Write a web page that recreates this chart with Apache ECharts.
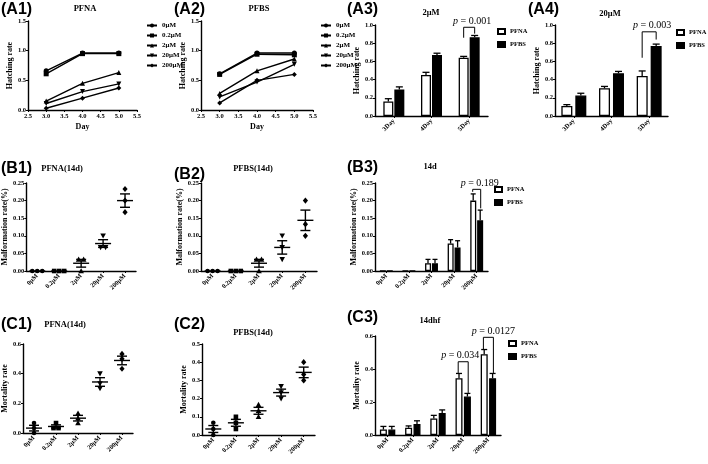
<!DOCTYPE html>
<html><head><meta charset="utf-8">
<script src="https://cdn.jsdelivr.net/npm/echarts@6/dist/echarts.min.js"></script>
<style>html,body{margin:0;padding:0;background:#fff}#c{width:708px;height:464px}</style>
</head><body><div id="c"></div>
<script>
// ---------------- DATA ----------------
const concLabels = ['0μM', '0.2μM', '2μM', '20μM', '200μM'];
const dayLabels = ['3Day', '4Day', '5Day'];
const days = [3.0, 4.0, 5.0];

// A1 PFNA hatching rate (day 3, 4, 5)
const a1_0 = [0.66, 0.96, 0.96];
const a1_02 = [0.61, 0.95, 0.95];
const a1_2 = [0.15, 0.45, 0.63];
const a1_20 = [0.11, 0.31, 0.44];
const a1_200 = [0.03, 0.20, 0.37];
// A2 PFBS hatching rate
const a2_0 = [0.61, 0.96, 0.96];
const a2_02 = [0.60, 0.94, 0.93];
const a2_2 = [0.28, 0.66, 0.86];
const a2_20 = [0.22, 0.47, 0.77];
const a2_200 = [0.12, 0.50, 0.60];

// A3 (2μM) hatching rate
const a3_pfna = [0.16, 0.45, 0.64];
const a3_pfna_err = [0.03, 0.03, 0.015];
const a3_pfbs = [0.29, 0.67, 0.865];
const a3_pfbs_err = [0.03, 0.02, 0.02];
// A4 (20μM) hatching rate
const a4_pfna = [0.11, 0.305, 0.44];
const a4_pfna_err = [0.015, 0.02, 0.055];
const a4_pfbs = [0.225, 0.47, 0.77];
const a4_pfbs_err = [0.025, 0.02, 0.02];

// B1 / B2 malformation replicates, mean, SEM
const b1_reps = [[0, 0, 0], [0, 0, 0], [0.033, 0.033, 0], [0.1, 0.067, 0.067], [0.233, 0.2, 0.167]];
const b1_mean = [0, 0, 0.022, 0.078, 0.2];
const b1_sem = [0, 0, 0.011, 0.011, 0.019];
const b2_reps = [[0, 0, 0], [0, 0, 0], [0.033, 0.033, 0], [0.1, 0.067, 0.033], [0.2, 0.133, 0.1]];
const b2_mean = [0, 0, 0.022, 0.067, 0.144];
const b2_sem = [0, 0, 0.011, 0.019, 0.029];

// C1 / C2 mortality replicates, mean, SEM
const c1_reps = [[0.067, 0.033, 0], [0.067, 0.033, 0.033], [0.133, 0.1, 0.067], [0.4, 0.333, 0.3], [0.533, 0.5, 0.433]];
const c1_mean = [0.033, 0.044, 0.1, 0.344, 0.489];
const c1_sem = [0.019, 0.011, 0.019, 0.029, 0.029];
const c2_reps = [[0.067, 0.033, 0], [0.1, 0.067, 0.033], [0.167, 0.133, 0.1], [0.267, 0.233, 0.2], [0.4, 0.333, 0.3]];
const c2_mean = [0.033, 0.067, 0.133, 0.233, 0.344];
const c2_sem = [0.019, 0.019, 0.019, 0.019, 0.029];

// p-value brackets: category, bracket top, left leg end, right leg end, text
const a3_p = [{cat: 2, top: 0.975, l: 0.86, r: 0.905, text: '0.001', dx: 3}];
const a4_p = [{cat: 2, top: 0.925, l: 0.64, r: 0.84, text: '0.003', dx: 3}];
const b3_p = [{cat: 4, top: 0.232, l: 0.225, r: 0.178, text: '0.189', dx: 3}];
const c3_p = [{cat: 3, top: 0.444, l: 0.376, r: 0.255, text: '0.034', dx: -3},
              {cat: 4, top: 0.592, l: 0.52, r: 0.376, text: '0.0127', dx: 5}];

// ---------------- CHART ----------------
const chart = echarts.init(document.getElementById('c'), null, {renderer: 'canvas'});
const SERIF = 'Liberation Serif';
const BLACK = '#000';
const lblBase = {fontFamily: SERIF, fontWeight: 'bold', fontSize: 6.5, color: BLACK};

const grids = [
  {left: 28, top: 21, width: 109, height: 89},   // A1
  {left: 201, top: 21, width: 112, height: 89},  // A2
  {left: 375, top: 25, width: 113, height: 91},  // A3
  {left: 555, top: 25, width: 113, height: 91},  // A4
  {left: 24, top: 183, width: 112, height: 88},  // B1
  {left: 201, top: 183, width: 116, height: 88}, // B2
  {left: 375, top: 183, width: 113, height: 88}, // B3
  {left: 21, top: 344, width: 112, height: 89},  // C1
  {left: 202, top: 344, width: 113, height: 91}, // C2
  {left: 375, top: 336, width: 126, height: 99}  // C3
];

function yAx(gi, max, interval, dec, name, gap) {
  return {type: 'value', gridIndex: gi, min: 0, max: max, interval: interval,
    name: name, nameLocation: 'middle', nameGap: gap,
    nameTextStyle: {fontFamily: SERIF, fontWeight: 'bold', fontSize: 8, color: BLACK},
    axisLine: {show: true, lineStyle: {color: BLACK, width: 1.4}},
    axisTick: {show: true, length: 2, lineStyle: {color: BLACK, width: 1}},
    axisLabel: Object.assign({}, lblBase, {margin: 2, formatter: v => v.toFixed(dec)}),
    splitLine: {show: false}};
}
function xCat(gi, data) {
  return {type: 'category', gridIndex: gi, data: data,
    axisLine: {show: true, lineStyle: {color: BLACK, width: 1.4}},
    axisTick: {show: true, alignWithLabel: true, length: 2, lineStyle: {color: BLACK, width: 1}},
    axisLabel: Object.assign({}, lblBase, {rotate: 45, margin: 4, interval: 0}),
    splitLine: {show: false}};
}
function xVal(gi) {
  return {type: 'value', gridIndex: gi, min: 2.5, max: 5.5, interval: 0.5,
    name: 'Day', nameLocation: 'middle', nameGap: 13,
    nameTextStyle: {fontFamily: SERIF, fontWeight: 'bold', fontSize: 8, color: BLACK},
    axisLine: {show: true, lineStyle: {color: BLACK, width: 1.4}},
    axisTick: {show: true, length: 2, lineStyle: {color: BLACK, width: 1}},
    axisLabel: Object.assign({}, lblBase, {margin: 3, formatter: v => v.toFixed(1)}),
    splitLine: {show: false}};
}

const xAxes = [xVal(0), xVal(1), xCat(2, dayLabels), xCat(3, dayLabels),
  xCat(4, concLabels), xCat(5, concLabels), xCat(6, concLabels),
  xCat(7, concLabels), xCat(8, concLabels), xCat(9, concLabels)];
const yAxes = [
  yAx(0, 1.5, 0.5, 1, 'Hatching rate', 12),
  yAx(1, 1.5, 0.5, 1, 'Hatching rate', 12),
  yAx(2, 1.0, 0.2, 1, 'Hatching rate', 12),
  yAx(3, 1.0, 0.2, 1, 'Hatching rate', 12),
  yAx(4, 0.25, 0.05, 2, 'Malformation rate(%)', 15),
  yAx(5, 0.25, 0.05, 2, 'Malformation rate(%)', 15),
  yAx(6, 0.25, 0.05, 2, 'Malformation rate(%)', 15),
  yAx(7, 0.6, 0.2, 1, 'Mortality rate', 11),
  yAx(8, 0.5, 0.1, 1, 'Mortality rate', 12),
  yAx(9, 0.6, 0.2, 1, 'Mortality rate', 12)
];

const concSymbols = ['circle', 'rect', 'triangle', 'path://M0,0L10,0L5,10Z', 'diamond'];

function lineSeries(gi, arrs) {
  return arrs.map((arr, k) => ({
    type: 'line', name: concLabels[k], xAxisIndex: gi, yAxisIndex: gi,
    data: days.map((d, i) => [d, arr[i]]),
    symbol: concSymbols[k], symbolSize: 5, showAllSymbol: true,
    lineStyle: {color: BLACK, width: 1.4}, itemStyle: {color: BLACK},
    z: 3, silent: true
  }));
}

function barSeries(gi, pfna, pfbs, barW, gap) {
  return [
    {type: 'bar', name: 'PFNA', xAxisIndex: gi, yAxisIndex: gi, data: pfna,
      barWidth: barW, barGap: gap, itemStyle: {color: '#fff', borderColor: BLACK, borderWidth: 1.3}, z: 2},
    {type: 'bar', name: 'PFBS', xAxisIndex: gi, yAxisIndex: gi, data: pfbs,
      barWidth: barW, barGap: gap, itemStyle: {color: BLACK, borderColor: BLACK, borderWidth: 1.3}, z: 2}
  ];
}

// upward error bars on bars; offset = pixel shift from category center
function errSeries(gi, vals, errs, offset, cap) {
  return {type: 'custom', xAxisIndex: gi, yAxisIndex: gi, z: 3, silent: true,
    data: vals.map((v, i) => [i, v, errs[i]]),
    renderItem: function (params, api) {
      if (api.value(2) <= 0) return null;
      const p0 = api.coord([api.value(0), api.value(1)]);
      const p1 = api.coord([api.value(0), api.value(1) + api.value(2)]);
      const x = p0[0] + offset;
      return {type: 'group', children: [
        {type: 'line', shape: {x1: x, y1: p0[1], x2: x, y2: p1[1]}, style: {stroke: BLACK, lineWidth: 1.3}},
        {type: 'line', shape: {x1: x - cap, y1: p1[1], x2: x + cap, y2: p1[1]}, style: {stroke: BLACK, lineWidth: 1.3}}
      ]};
    }};
}

function bracketSeries(gi, list, offset) {
  return {type: 'custom', xAxisIndex: gi, yAxisIndex: gi, z: 4, silent: true,
    data: list.map(o => [o.cat, o.top, o.l, o.r]),
    renderItem: function (params, api) {
      const o = list[params.dataIndex];
      const c = api.value(0);
      const pt = api.coord([c, api.value(1)]);
      const pl = api.coord([c, api.value(2)]);
      const pr = api.coord([c, api.value(3)]);
      const xl = pt[0] - offset, xr = pt[0] + offset;
      return {type: 'group', children: [
        {type: 'polyline', shape: {points: [[xl, pl[1]], [xl, pt[1]], [xr, pt[1]], [xr, pr[1]]]},
          style: {stroke: BLACK, lineWidth: 1, fill: null}},
        {type: 'text', x: pt[0] + o.dx, y: pt[1] - 1,
          style: {text: '{i|p} = ' + o.text, align: 'center', verticalAlign: 'bottom',
            fontFamily: SERIF, fontSize: 10, fill: BLACK,
            rich: {i: {fontStyle: 'italic', fontFamily: SERIF, fontSize: 10, fill: BLACK}}}}
      ]};
    }};
}

function symbolShape(kind, x, y, s) {
  const h = s / 2;
  const st = {fill: BLACK};
  if (kind === 0) return {type: 'circle', shape: {cx: x, cy: y, r: h}, style: st};
  if (kind === 1) return {type: 'rect', shape: {x: x - h, y: y - h, width: s, height: s}, style: st};
  if (kind === 2) return {type: 'polygon', shape: {points: [[x, y - h - 0.5], [x + h + 0.5, y + h], [x - h - 0.5, y + h]]}, style: st};
  if (kind === 3) return {type: 'polygon', shape: {points: [[x - h - 0.5, y - h], [x + h + 0.5, y - h], [x, y + h + 0.5]]}, style: st};
  return {type: 'polygon', shape: {points: [[x, y - h - 0.8], [x + h + 0.3, y], [x, y + h + 0.8], [x - h - 0.3, y]]}, style: st};
}

// replicate dots, equal values spread sideways
function dotSeries(gi, reps) {
  const data = [];
  reps.forEach((g, i) => g.forEach((v, j) => {
    const same = g.filter(u => u === v).length;
    const k = g.slice(0, j).filter(u => u === v).length;
    data.push([i, v, k - (same - 1) / 2]);
  }));
  return {type: 'custom', xAxisIndex: gi, yAxisIndex: gi, z: 4, silent: true, data: data,
    renderItem: function (params, api) {
      const p = api.coord([api.value(0), api.value(1)]);
      return symbolShape(api.value(0), p[0] + api.value(2) * 5, p[1], 4.6);
    }};
}
function meanSemSeries(gi, mean, sem) {
  return {type: 'custom', xAxisIndex: gi, yAxisIndex: gi, z: 5, silent: true,
    data: mean.map((m, i) => [i, m, sem[i]]),
    renderItem: function (params, api) {
      const i = api.value(0), m = api.value(1), s = api.value(2);
      const pm = api.coord([i, m]);
      const ph = api.coord([i, m + s]);
      const pl = api.coord([i, m - s]);
      const x = pm[0];
      const ls = {stroke: BLACK, lineWidth: 1.4};
      const ch = [{type: 'line', shape: {x1: x - 8, y1: pm[1], x2: x + 8, y2: pm[1]}, style: ls}];
      if (s > 0) {
        ch.push({type: 'line', shape: {x1: x, y1: ph[1], x2: x, y2: pl[1]}, style: ls});
        ch.push({type: 'line', shape: {x1: x - 5, y1: ph[1], x2: x + 5, y2: ph[1]}, style: ls});
        ch.push({type: 'line', shape: {x1: x - 5, y1: pl[1], x2: x + 5, y2: pl[1]}, style: ls});
      }
      return {type: 'group', children: ch};
    }};
}

const series = [].concat(
  lineSeries(0, [a1_0, a1_02, a1_2, a1_20, a1_200]),
  lineSeries(1, [a2_0, a2_02, a2_2, a2_20, a2_200]),
  barSeries(2, a3_pfna, a3_pfbs, 10, '10%'),
  [errSeries(2, a3_pfna, a3_pfna_err, -5.5, 3.5), errSeries(2, a3_pfbs, a3_pfbs_err, 5.5, 3.5), bracketSeries(2, a3_p, 5.5)],
  barSeries(3, a4_pfna, a4_pfbs, 11, '27%'),
  [errSeries(3, a4_pfna, a4_pfna_err, -7, 3.5), errSeries(3, a4_pfbs, a4_pfbs_err, 7, 3.5), bracketSeries(3, a4_p, 7)],
  [dotSeries(4, b1_reps), meanSemSeries(4, b1_mean, b1_sem)],
  [dotSeries(5, b2_reps), meanSemSeries(5, b2_mean, b2_sem)],
  barSeries(6, b1_mean, b2_mean, 6, '15%'),
  [errSeries(6, b1_mean, b1_sem, -3.5, 2.5), errSeries(6, b2_mean, b2_sem, 3.5, 2.5), bracketSeries(6, b3_p, 4)],
  [dotSeries(7, c1_reps), meanSemSeries(7, c1_mean, c1_sem)],
  [dotSeries(8, c2_reps), meanSemSeries(8, c2_mean, c2_sem)],
  barSeries(9, c1_mean, c2_mean, 7, '20%'),
  [errSeries(9, c1_mean, c1_sem, -4.2, 3), errSeries(9, c2_mean, c2_sem, 4.2, 3), bracketSeries(9, c3_p, 5)]
);

const legTxt = {fontFamily: SERIF, fontWeight: 'bold', fontSize: 7, color: BLACK};
const legTxtSmall = {fontFamily: SERIF, fontWeight: 'bold', fontSize: 6.5, color: BLACK};
function lineLegend(left, top) {
  return {orient: 'vertical', left: left, top: top, data: concLabels, itemWidth: 10, itemHeight: 5,
    itemGap: 3, textStyle: legTxt, selectedMode: false, padding: 0};
}
function barLegend(left, top) {
  return {orient: 'vertical', left: left, top: top, data: ['PFNA', 'PFBS'], icon: 'rect', itemWidth: 7, itemHeight: 5,
    itemGap: 6, textStyle: legTxtSmall, selectedMode: false, padding: 0};
}

const panelLabels = [
  ['(A1)', 1, 10], ['(A2)', 174, 10], ['(A3)', 347, 10], ['(A4)', 528, 10],
  ['(B1)', 1, 169], ['(B2)', 174, 175], ['(B3)', 347, 168],
  ['(C1)', 1, 325], ['(C2)', 174, 325], ['(C3)', 347, 318]
];
const chartTitles = [
  ['PFNA', 85, 9], ['PFBS', 259, 9], ['2μM', 431, 13], ['20μM', 610, 14],
  ['PFNA(14d)', 62, 169], ['PFBS(14d)', 253, 169], ['14d', 430, 167],
  ['PFNA(14d)', 65, 325], ['PFBS(14d)', 253, 333], ['14dhf', 430, 321]
];
const graphics = [];
panelLabels.forEach(p => graphics.push({type: 'text', x: p[1], y: p[2],
  style: {text: p[0], fontFamily: 'Liberation Sans', fontWeight: 'bold', fontSize: 16, fill: BLACK, align: 'left', verticalAlign: 'middle'}}));
chartTitles.forEach(p => graphics.push({type: 'text', x: p[1], y: p[2],
  style: {text: p[0], fontFamily: SERIF, fontWeight: 'bold', fontSize: 8.5, fill: BLACK, align: 'center', verticalAlign: 'middle'}}));

chart.setOption({
  animation: false,
  backgroundColor: '#fff',
  grid: grids,
  xAxis: xAxes,
  yAxis: yAxes,
  legend: [lineLegend(146, 22), lineLegend(320, 22), barLegend(497, 28), barLegend(676, 29),
    barLegend(494, 186), barLegend(508, 340)],
  graphic: graphics,
  series: series
});
</script>
</body></html>
